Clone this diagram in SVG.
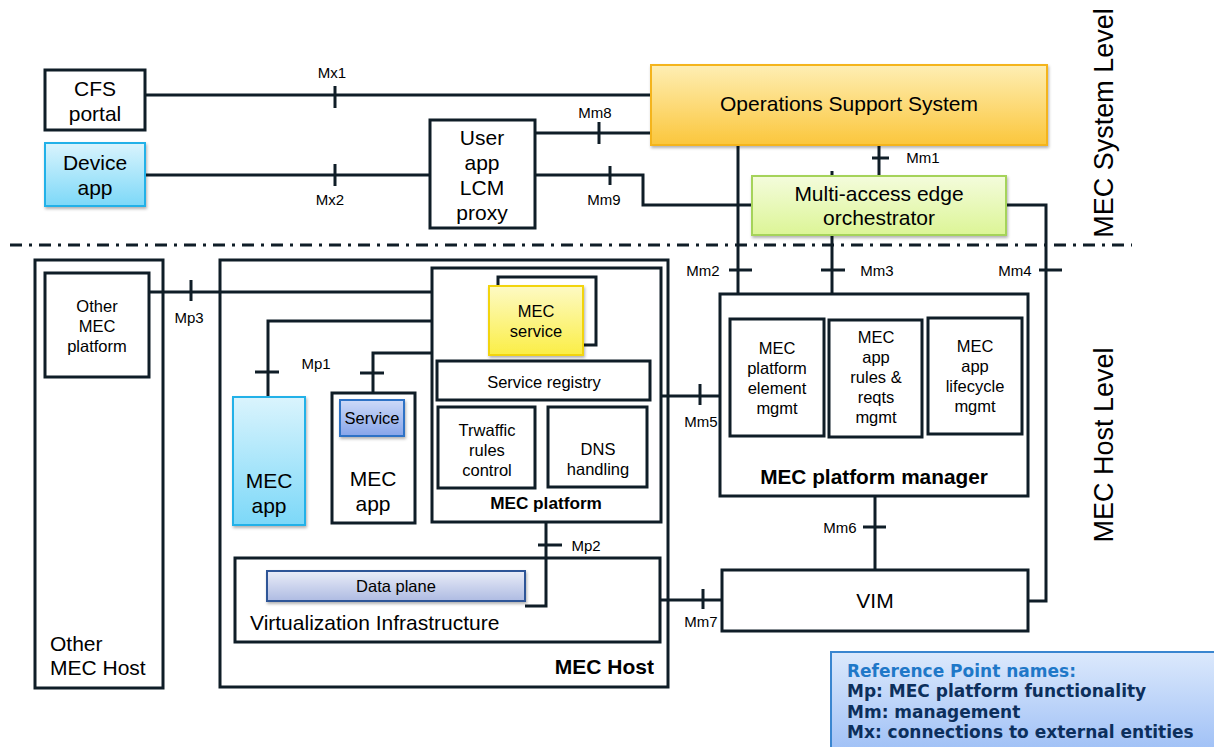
<svg xmlns="http://www.w3.org/2000/svg" width="1214" height="747" viewBox="0 0 1214 747">
<defs>
<linearGradient id="gOss" x1="0" y1="0" x2="0" y2="1"><stop offset="0" stop-color="#feeeb4"/><stop offset="1" stop-color="#fbc63c"/></linearGradient>
<linearGradient id="gMeo" x1="0" y1="0" x2="0" y2="1"><stop offset="0" stop-color="#f4fcdc"/><stop offset="1" stop-color="#dcf596"/></linearGradient>
<linearGradient id="gBlue" x1="0" y1="0" x2="0" y2="1"><stop offset="0" stop-color="#daf4fd"/><stop offset="1" stop-color="#7cd8f8"/></linearGradient>
<linearGradient id="gSvc" x1="0" y1="0" x2="0" y2="1"><stop offset="0" stop-color="#cdd9f8"/><stop offset="1" stop-color="#87a5ea"/></linearGradient>
<linearGradient id="gYel" x1="0" y1="0" x2="0" y2="1"><stop offset="0" stop-color="#fdfac4"/><stop offset="1" stop-color="#fbee46"/></linearGradient>
<linearGradient id="gDp" x1="0" y1="0" x2="0" y2="1"><stop offset="0" stop-color="#eaedf8"/><stop offset="1" stop-color="#aebbe2"/></linearGradient>
<linearGradient id="gLeg" x1="0" y1="0" x2="0" y2="1"><stop offset="0" stop-color="#dce9fc"/><stop offset="1" stop-color="#9fc0f6"/></linearGradient>
<filter id="sh" x="-10%" y="-10%" width="130%" height="140%"><feDropShadow dx="1" dy="2" stdDeviation="1.5" flood-color="#000" flood-opacity="0.3"/></filter>
</defs>
<style>
.box{fill:#fff;stroke:#0f1d27;stroke-width:3}
.frame{fill:none;stroke:#0f1d27;stroke-width:3}
.ln{fill:none;stroke:#0f1d27;stroke-width:3}
.tk{stroke:#0f1d27;stroke-width:3}
text{font-family:"Liberation Sans",Arial,sans-serif;fill:#000}
.t19{font-size:21px;text-anchor:middle}
.t15{font-size:16.5px;text-anchor:middle}
.lbl{font-size:15px;text-anchor:middle}
.big{font-size:21px}
.b{font-weight:bold}
.vt{font-size:27px;text-anchor:middle}
.leg{font-family:"DejaVu Sans",Verdana,sans-serif;font-size:17px;font-weight:bold;fill:#0c2f5c}
</style>

<!-- separator -->
<line x1="10" y1="245" x2="1132" y2="245" stroke="#0f1d27" stroke-width="3" stroke-dasharray="12,7,3,7"/>
<text class="vt" x="1113" y="123" transform="rotate(-90 1113 123)">MEC System Level</text>
<text class="vt" x="1113" y="445" transform="rotate(-90 1113 445)">MEC Host Level</text>

<g id="connectors">
<!-- Mx1 -->
<line class="ln" x1="145" y1="95" x2="651" y2="95"/>
<line class="tk" x1="335" y1="86" x2="335" y2="108"/>
<text class="lbl" x="332" y="78">Mx1</text>
<!-- Mx2 -->
<line class="ln" x1="145" y1="175" x2="430" y2="175"/>
<line class="tk" x1="335" y1="164" x2="335" y2="186"/>
<text class="lbl" x="330" y="205">Mx2</text>
<!-- Mm8 -->
<line class="ln" x1="535" y1="133" x2="651" y2="133"/>
<line class="tk" x1="599" y1="122" x2="599" y2="144"/>
<text class="lbl" x="595" y="118">Mm8</text>
<!-- Mm9 -->
<polyline class="ln" points="535,175 643,175 643,205 752,205"/>
<line class="tk" x1="610" y1="166" x2="610" y2="185"/>
<text class="lbl" x="604" y="205">Mm9</text>
<!-- Mm2 -->
<line class="ln" x1="738" y1="145" x2="738" y2="296"/>
<line class="tk" x1="729" y1="270" x2="752" y2="270"/>
<text class="lbl" x="703" y="276">Mm2</text>
<!-- Mm1 -->
<line class="ln" x1="879" y1="145" x2="879" y2="176"/>
<line class="tk" x1="872" y1="158" x2="889" y2="158"/>
<text class="lbl" x="923" y="163">Mm1</text>
<!-- Mm3 -->
<line class="ln" x1="832" y1="171" x2="832" y2="294"/>
<line class="tk" x1="821" y1="270" x2="845" y2="270"/>
<text class="lbl" x="877" y="276">Mm3</text>
<!-- Mm4 -->
<polyline class="ln" points="1006,205 1046,205 1046,601 1028,601"/>
<line class="tk" x1="1039" y1="270" x2="1062" y2="270"/>
<text class="lbl" x="1015" y="276">Mm4</text>
<!-- Mp3 -->
<line class="ln" x1="149" y1="292" x2="432" y2="292"/>
<line class="tk" x1="191" y1="280" x2="191" y2="301"/>
<text class="lbl" x="189" y="323">Mp3</text>
<!-- Mp1 -->
<polyline class="ln" points="432,321 268,321 268,397"/>
<line class="tk" x1="255" y1="372" x2="279" y2="372"/>
<polyline class="ln" points="432,353 373,353 373,393"/>
<line class="tk" x1="360" y1="373" x2="384" y2="373"/>
<text class="lbl" x="316" y="369">Mp1</text>
<!-- Mm5 -->
<line class="ln" x1="661" y1="396" x2="720" y2="396"/>
<line class="tk" x1="700" y1="384" x2="700" y2="405"/>
<text class="lbl" x="701" y="427">Mm5</text>
<!-- Mm6 -->
<line class="ln" x1="875" y1="496" x2="875" y2="570"/>
<line class="tk" x1="863" y1="527" x2="886" y2="527"/>
<text class="lbl" x="840" y="533">Mm6</text>
<!-- Mp2 -->
<polyline class="ln" points="546,522 546,606 525,606"/>
<line class="tk" x1="538" y1="545" x2="562" y2="545"/>
<text class="lbl" x="586" y="551">Mp2</text>
<!-- Mm7 -->
<line class="ln" x1="660" y1="600" x2="722" y2="600"/>
<line class="tk" x1="703" y1="589" x2="703" y2="609"/>
<text class="lbl" x="701" y="627">Mm7</text>
</g>

<g id="cfs-portal">
<rect class="box" x="45" y="70" width="100" height="60"/>
<text class="t19" x="95" y="96">CFS</text>
<text class="t19" x="95" y="121">portal</text>
</g>
<g id="device-app">
<rect x="45" y="143" width="100" height="63" fill="url(#gBlue)" stroke="#22b1e8" stroke-width="2" filter="url(#sh)"/>
<text class="t19" x="95" y="170">Device</text>
<text class="t19" x="95" y="195">app</text>
</g>
<g id="user-app-lcm-proxy">
<rect class="box" x="430" y="120" width="105" height="108"/>
<text class="t19" x="482" y="145">User</text>
<text class="t19" x="482" y="170">app</text>
<text class="t19" x="482" y="195">LCM</text>
<text class="t19" x="482" y="220">proxy</text>
</g>
<g id="oss">
<rect x="651" y="65" width="396" height="80" fill="url(#gOss)" stroke="#f4b41a" stroke-width="2" filter="url(#sh)"/>
<text class="t19" x="849" y="111">Operations Support System</text>
</g>
<g id="meo">
<rect x="752" y="176" width="254" height="59" fill="url(#gMeo)" stroke="#a5d35a" stroke-width="2" filter="url(#sh)"/>
<text class="t19" x="879" y="201">Multi-access edge</text>
<text class="t19" x="879" y="225">orchestrator</text>
</g>

<g id="other-mec-host">
<rect class="frame" x="35" y="260" width="128" height="428"/>
<text class="big" x="50" y="651">Other</text>
<text class="big" x="50" y="675">MEC Host</text>
</g>
<g id="other-mec-platform">
<rect class="box" x="45" y="273" width="104" height="104"/>
<text class="t15" x="97" y="312">Other</text>
<text class="t15" x="97" y="332">MEC</text>
<text class="t15" x="97" y="352">platform</text>
</g>

<g id="mec-host">
<rect class="frame" x="220" y="260" width="448" height="427"/>
<text x="654" y="674" class="b big" style="text-anchor:end">MEC Host</text>
</g>
<g id="mec-platform">
<rect class="box" x="432" y="268" width="229" height="254"/>
<text class="b" x="546" y="509" style="font-size:17.2px;text-anchor:middle">MEC platform</text>
</g>
<g id="mec-service">
<polyline class="ln" points="498,286 498,277 596,277 596,345 583,345"/>
<rect x="489" y="286" width="94" height="69" fill="url(#gYel)" stroke="#f2d40a" stroke-width="2" filter="url(#sh)"/>
<text class="t15" x="536" y="317">MEC</text>
<text class="t15" x="536" y="337">service</text>
</g>
<g id="service-registry">
<rect class="box" x="437" y="361" width="213" height="39"/>
<text class="t15" x="544" y="388">Service registry</text>
</g>
<g id="traffic-rules">
<rect class="box" x="438" y="407" width="97" height="81"/>
<text class="t15" x="487" y="436">Trwaffic</text>
<text class="t15" x="487" y="456">rules</text>
<text class="t15" x="487" y="476">control</text>
</g>
<g id="dns-handling">
<rect class="box" x="548" y="407" width="99" height="80"/>
<text class="t15" x="598" y="455">DNS</text>
<text class="t15" x="598" y="475">handling</text>
</g>
<g id="mec-app-1">
<rect x="233" y="397" width="72" height="128" fill="url(#gBlue)" stroke="#22b1e8" stroke-width="2" filter="url(#sh)"/>
<text class="t19" x="269" y="488">MEC</text>
<text class="t19" x="269" y="513">app</text>
</g>
<g id="mec-app-2">
<rect class="box" x="332" y="393" width="83" height="130"/>
<text class="t19" x="373" y="486">MEC</text>
<text class="t19" x="373" y="511">app</text>
</g>
<g id="service">
<rect x="340" y="400" width="64" height="36" fill="url(#gSvc)" stroke="#2e72c6" stroke-width="2" filter="url(#sh)"/>
<text class="t15" x="372" y="424">Service</text>
</g>
<g id="virtualization-infrastructure">
<rect class="frame" x="235" y="558" width="425" height="84"/>
<text class="big" x="250" y="630">Virtualization Infrastructure</text>
</g>
<g id="data-plane">
<rect x="267" y="571" width="258" height="30" fill="url(#gDp)" stroke="#2f5597" stroke-width="2" filter="url(#sh)"/>
<text class="t15" x="396" y="592">Data plane</text>
</g>

<g id="mec-platform-manager">
<rect class="box" x="720" y="294" width="308" height="202"/>
<text class="b" x="874" y="484" style="font-size:20.8px;text-anchor:middle">MEC platform manager</text>
</g>
<g id="platform-element-mgmt">
<rect class="box" x="730" y="319" width="94" height="117"/>
<text class="t15" x="777" y="354">MEC</text>
<text class="t15" x="777" y="374">platform</text>
<text class="t15" x="777" y="394">element</text>
<text class="t15" x="777" y="414">mgmt</text>
</g>
<g id="app-rules-mgmt">
<rect class="box" x="829" y="320" width="93" height="117"/>
<text class="t15" x="876" y="343">MEC</text>
<text class="t15" x="876" y="363">app</text>
<text class="t15" x="876" y="383">rules &amp;</text>
<text class="t15" x="876" y="403">reqts</text>
<text class="t15" x="876" y="423">mgmt</text>
</g>
<g id="app-lifecycle-mgmt">
<rect class="box" x="928" y="318" width="94" height="116"/>
<text class="t15" x="975" y="352">MEC</text>
<text class="t15" x="975" y="372">app</text>
<text class="t15" x="975" y="392">lifecycle</text>
<text class="t15" x="975" y="412">mgmt</text>
</g>
<g id="vim">
<rect class="box" x="722" y="570" width="306" height="61"/>
<text class="t19" x="875" y="608">VIM</text>
</g>

<g id="legend">
<rect x="831" y="652" width="390" height="100" fill="url(#gLeg)" stroke="#3a86d0" stroke-width="2"/>
<text class="leg" x="847" y="677" style="fill:#1f78c8">Reference Point names:</text>
<text class="leg" x="847" y="697">Mp: MEC platform functionality</text>
<text class="leg" x="847" y="718">Mm: management</text>
<text class="leg" x="847" y="738">Mx: connections to external entities</text>
</g>
</svg>
